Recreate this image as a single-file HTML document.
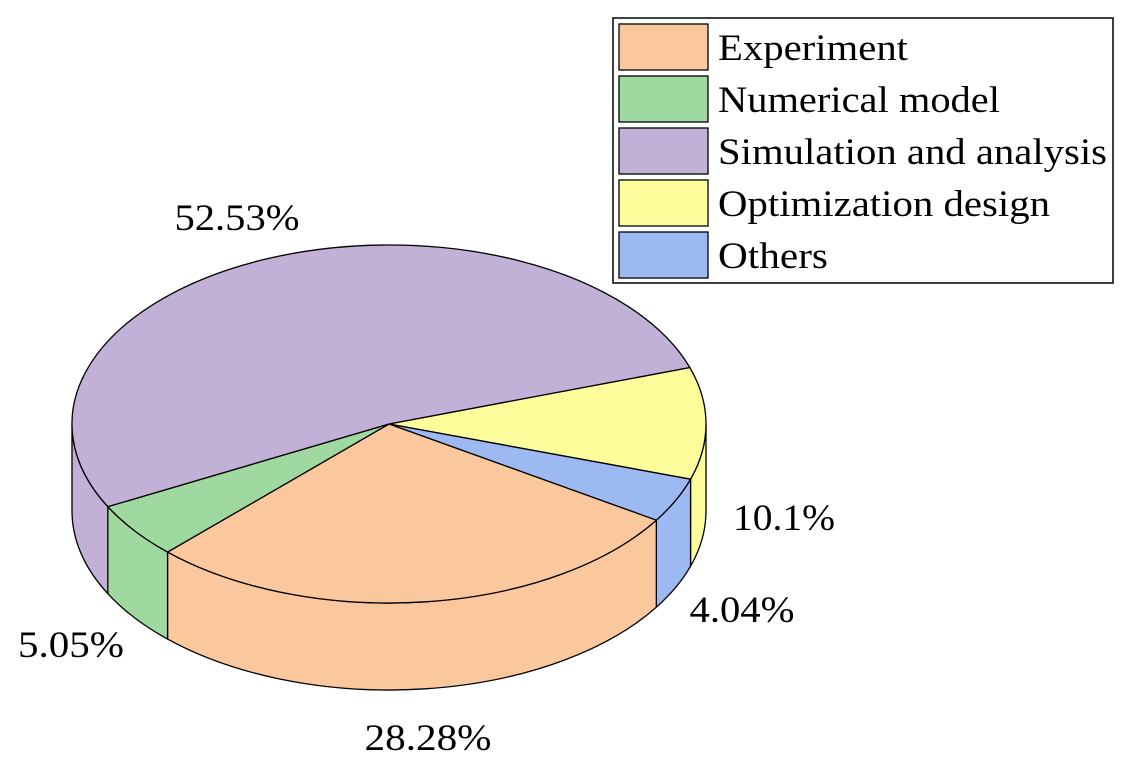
<!DOCTYPE html>
<html><head><meta charset="utf-8"><style>
html,body{margin:0;padding:0;background:#fff;}
svg{display:block;font-family:"Liberation Serif",serif;}
</style></head><body>
<svg id="chart" width="1129" height="768" viewBox="0 0 1129 768"></svg>
<script>
const categories = ["Optimization design","Others","Experiment","Numerical model","Simulation and analysis"];
const values = [10.1, 4.04, 28.28, 5.05, 52.53];
const labels = ["10.1%","4.04%","28.28%","5.05%","52.53%"];
const colors = ["#fdfd9c","#9db9f2","#fac89c","#9fd99f","#c2b1d7"];
const legendOrder = ["Experiment","Numerical model","Simulation and analysis","Optimization design","Others"];

const NS="http://www.w3.org/2000/svg";
const svg=document.getElementById('chart');
const cx=389, cy=424, rx=317, ry=179, depth=87, start=-18.4;
function pt(a,dy){const r=a*Math.PI/180;return [cx+rx*Math.cos(r), cy+ry*Math.sin(r)+(dy||0)];}
function mk(tag,attrs){const e=document.createElementNS(NS,tag);for(const k in attrs)e.setAttribute(k,attrs[k]);svg.appendChild(e);return e;}
const total=values.reduce((a,b)=>a+b,0);
const angles=[];let a=start;
values.forEach(v=>{const s=a;a+=v/total*360;angles.push([s,a]);});
angles.forEach(([s,e],i)=>{
  [[s,e],[s-360,e-360]].forEach(([s1,e1])=>{
    const a1=Math.max(s1,0), a2=Math.min(e1,180);
    if(a2<=a1) return;
    const p1=pt(a1),p2=pt(a2),q2=pt(a2,depth),q1=pt(a1,depth);
    const d=`M${p1} A${rx},${ry} 0 0 1 ${p2} L${q2} A${rx},${ry} 0 0 0 ${q1} Z`;
    const el=mk('path',{d:d,fill:colors[i],stroke:'#000','stroke-width':1.3});
    
    
  });
});
angles.forEach(([s,e],i)=>{
  const p1=pt(s),p2=pt(e);const large=(e-s)>180?1:0;
  const d=`M${cx},${cy} L${p1} A${rx},${ry} 0 ${large} 1 ${p2} Z`;
  const el=mk('path',{d:d,fill:colors[i],stroke:'#000','stroke-width':1.3});
  
  
});
const labelPos=[[784,530],[742,622],[428,750],[71,657],[237,230]];
const labelW=[102,105,127,106,125];
labels.forEach((t,i)=>{
  const el=mk('text',{x:labelPos[i][0],y:labelPos[i][1],'font-size':37,'text-anchor':'middle',fill:'#000',textLength:labelW[i],lengthAdjust:'spacingAndGlyphs'});
  el.textContent=t;
  
  
});
const lb=mk('rect',{x:613,y:18,width:500,height:265,fill:'#fff',stroke:'#000','stroke-width':1.5});


const legendW=[190,282,389,332,110];
legendOrder.forEach((n,k)=>{
  const i=categories.indexOf(n);
  const y=24+k*52;
  const r=mk('rect',{x:619,y:y,width:89,height:46,fill:colors[i],stroke:'#000','stroke-width':1.3});
  
  
  const t=mk('text',{x:718,y:y+36,'font-size':37,fill:'#000',textLength:legendW[k],lengthAdjust:'spacingAndGlyphs'});
  t.textContent=n;
  
  
});
</script>
</body></html>
